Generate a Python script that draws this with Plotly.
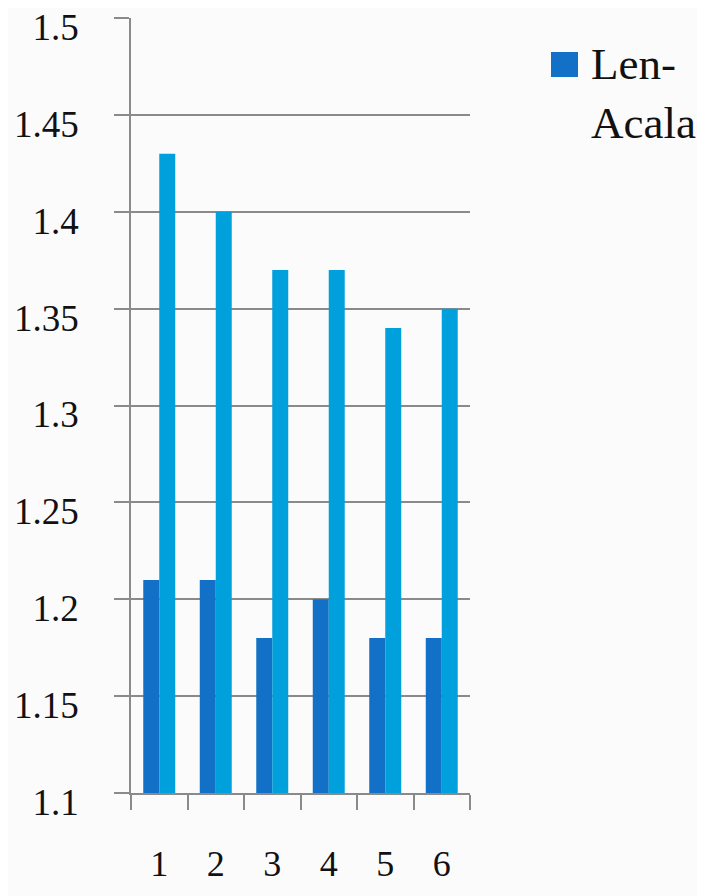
import plotly.graph_objects as go

categories = ["1", "2", "3", "4", "5", "6"]
series_dark_name = "Len-<br>Acala"
series_dark = [1.21, 1.21, 1.18, 1.20, 1.18, 1.18]
series_light_name = "Series 2"
series_light = [1.43, 1.40, 1.37, 1.37, 1.34, 1.35]
y_ticks = [1.1, 1.15, 1.2, 1.25, 1.3, 1.35, 1.4, 1.45, 1.5]
y_tick_labels = ["1.1", "1.15", "1.2", "1.25", "1.3", "1.35", "1.4", "1.45", "1.5"]

DARK = "#1270c6"
LIGHT = "#00a0dc"
GRID = "#8a8a8a"
FONT = "Liberation Serif"

fig = go.Figure()
fig.add_trace(go.Bar(x=categories, y=series_dark, name=series_dark_name,
                     marker=dict(color=DARK, line=dict(width=0)), showlegend=False))
fig.add_trace(go.Bar(x=categories, y=series_light, name=series_light_name,
                     marker=dict(color=LIGHT, line=dict(width=0)), showlegend=False))

OFF = 8  # page body margin
W, H = 705 - OFF, 896 - OFF
L, T = 131 - OFF, 18 - OFF
pw, ph = 339, 775
R, B = W - L - pw, H - T - ph

def px_x(x):
    return (x - OFF - L) / pw

def px_y(y):
    return 1 - (y - OFF - T) / ph

# manual legend (larger symbol than plotly's built-in)
fig.add_shape(type="rect", xref="paper", yref="paper",
              x0=px_x(551), x1=px_x(578), y0=px_y(77), y1=px_y(52),
              fillcolor=DARK, line=dict(width=0))
fig.add_annotation(xref="paper", yref="paper", x=px_x(589), y=px_y(93),
                   xanchor="left", yanchor="middle", align="left",
                   text=series_dark_name, showarrow=False,
                   font=dict(family=FONT, size=45, color="#111111"))

fig.update_layout(
    width=W, height=H,
    margin=dict(l=L, r=R, t=T, b=B, pad=0, autoexpand=False),
    barmode="group", bargap=0.434, bargroupgap=0,
    paper_bgcolor="#fbfbfb", plot_bgcolor="rgba(0,0,0,0)",
    font=dict(family=FONT, size=36, color="#111111"),
    showlegend=False,
)
fig.update_xaxes(type="category", tickson="boundaries", ticks="outside", ticklen=15,
                 tickcolor=GRID, tickwidth=1.5, showline=True, linecolor=GRID, linewidth=1.5,
                 showgrid=False, ticklabelstandoff=38, automargin=False,
                 tickfont=dict(family=FONT, size=36, color="#111111"))
fig.update_yaxes(range=[1.1, 1.5], tickvals=y_ticks, ticktext=y_tick_labels,
                 ticks="outside", ticklen=15, tickcolor=GRID, tickwidth=1.5,
                 showline=True, linecolor=GRID, linewidth=1.5,
                 showgrid=True, gridcolor=GRID, gridwidth=1.5, zeroline=False,
                 ticklabelstandoff=28, ticklabelshift=9, ticklabeloverflow="allow",
                 automargin=False,
                 tickfont=dict(family=FONT, size=37, color="#111111"))

fig.write_html("out.html")
